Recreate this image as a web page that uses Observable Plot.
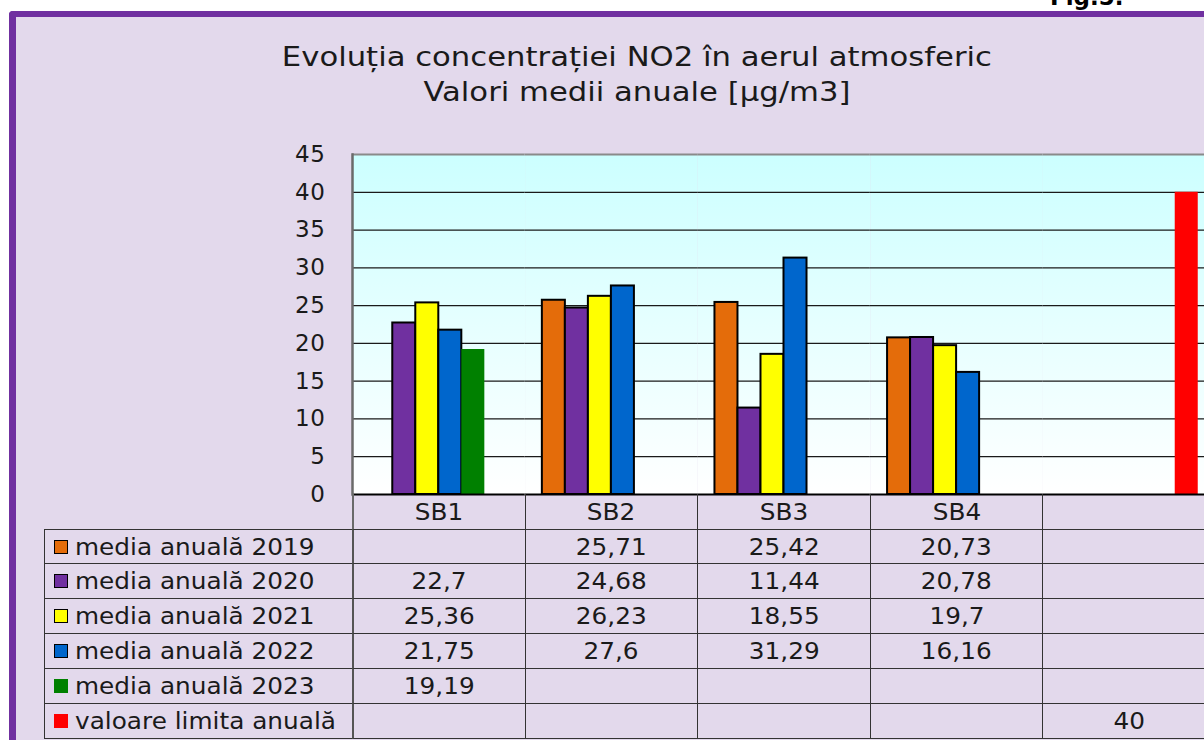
<!DOCTYPE html>
<html>
<head>
<meta charset="utf-8">
<script src="https://cdn.jsdelivr.net/npm/d3@7"></script>
<script src="https://cdn.jsdelivr.net/npm/@observablehq/plot@0.6"></script>
<style>
html, body { margin: 0; padding: 0; width: 1204px; height: 740px; overflow: hidden; background: #ffffff; }
#frame { position: absolute; left: 9px; top: 11px; width: 1300px; height: 800px; background: #E3D9EC;
  border-left: 7px solid #7030A0; border-top: 6px solid #7030A0; border-top-left-radius: 4px; }
#fig { position: absolute; left: 1050px; top: -14px; font: bold 23px "DejaVu Sans"; line-height: 23px; color: #000; }
#title { position: absolute; left: 0; width: 1274px; top: 40px; text-align: center; font: 26px "DejaVu Sans";
  line-height: 35px; color: #1a1a1a; }
#title span { display: inline-block; transform: scaleX(1.18); }
#chart { position: absolute; left: 0; top: 0; }
#table { position: absolute; left: 44px; top: 494px; display: grid;
  grid-template-columns: 308px repeat(5, 172.6px); grid-auto-rows: 35px;
  font: 22.5px "DejaVu Sans"; color: #1a1a1a; }
.c { box-sizing: border-box; display: flex; align-items: center; justify-content: center; white-space: nowrap; }
.c span { display: inline-block; transform: scaleX(1.1); }
.hd { border-left: 1.5px solid #333; }
.hd.first { border-left: 2px solid #6a6a6a; }
.b { border-left: 1.5px solid #333; border-bottom: 1.5px solid #333; }
.b.first { border-left: 2px solid #555; }
.r1 { border-top: 1.5px solid #333; }
.lab { justify-content: flex-start; padding-left: 9px; }
.lab span { transform-origin: left center; }
.sw { width: 14px; height: 14px; box-sizing: border-box; margin-right: 7px; flex: none; }
</style>
</head>
<body>
<div id="frame"></div>
<div id="fig">Fig.5.</div>
<div id="title"><span>Evoluția concentrației NO2 în aerul atmosferic</span><br><span>Valori medii anuale [µg/m3]</span></div>
<div id="chart"></div>
<div id="table"></div>
<script>
// ---- data ----
const categories = ["SB1", "SB2", "SB3", "SB4", " "];
const series = ["media anuală 2019", "media anuală 2020", "media anuală 2021", "media anuală 2022", "media anuală 2023", "valoare limita anuală"];
const colors = ["#E46C0A", "#7030A0", "#FFFF00", "#0066CC", "#008000", "#FF0000"];
const outlined = [true, true, true, true, false, false];
const v2019 = [null, 25.71, 25.42, 20.73, null];
const v2020 = [22.7, 24.68, 11.44, 20.78, null];
const v2021 = [25.36, 26.23, 18.55, 19.7, null];
const v2022 = [21.75, 27.6, 31.29, 16.16, null];
const v2023 = [19.19, null, null, null, null];
const vLimit = [null, null, null, null, 40];
const yTicks = [0, 5, 10, 15, 20, 25, 30, 35, 40, 45];

const seriesValues = [v2019, v2020, v2021, v2022, v2023, vLimit];
const rows = [];
seriesValues.forEach((vals, si) => vals.forEach((v, ci) => {
  if (v != null) rows.push({cat: categories[ci], series: series[si], value: v, outlined: outlined[si]});
}));

const chart = Plot.plot({
  width: 1230,
  height: 500,
  marginLeft: 352,
  marginRight: 15,
  marginTop: 154,
  marginBottom: 6,
  style: {background: "transparent", fontFamily: "DejaVu Sans", fontSize: "22px", color: "#1a1a1a", maxWidth: "none", overflow: "visible"},
  fx: {domain: categories, padding: 0, axis: null, round: false},
  x: {domain: series, paddingInner: 0, paddingOuter: 0.75, axis: null, round: false},
  y: {domain: [0, 45]},
  color: {domain: series, range: colors},
  marks: [
    Plot.frame({fill: "url(#plotBg)", stroke: "none"}),
    Plot.ruleY(yTicks.filter(t => t > 0 && t < 45), {stroke: "#1a1a1a", strokeWidth: 1.2}),
    Plot.ruleY([45], {stroke: "#8a8a8a", strokeWidth: 2}),
    Plot.barY(rows.filter(d => d.outlined), {fx: "cat", x: "series", y: "value", fill: "series", stroke: "#000", strokeWidth: 2}),
    Plot.barY(rows.filter(d => !d.outlined), {fx: "cat", x: "series", y: "value", fill: "series"}),
    Plot.ruleY([0], {stroke: "#000", strokeWidth: 2}),
    Plot.frame({anchor: "left", facetAnchor: "left", stroke: "#6a6a6a", strokeWidth: 2.5}),
    Plot.axisY(yTicks, {tickSize: 0, tickPadding: 27, fontSize: 23, fill: "#1a1a1a", label: null})
  ]
});

const defs = document.createElementNS("http://www.w3.org/2000/svg", "defs");
defs.innerHTML = '<linearGradient id="plotBg" x1="0" y1="0" x2="0" y2="1">' +
  '<stop offset="0" stop-color="#CCFFFF"/><stop offset="1" stop-color="#FFFFFF"/></linearGradient>';
chart.insertBefore(defs, chart.firstChild);
chart.querySelectorAll('[aria-label="y-axis tick label"] text').forEach(t => t.setAttribute("letter-spacing", "0.6"));
document.getElementById("chart").appendChild(chart);

// ---- data table ----
const fmt = v => v == null ? "" : String(v).replace(".", ",");
const table = document.getElementById("table");
function cell(cls, text) {
  const d = document.createElement("div");
  d.className = "c " + cls;
  if (text) { const s = document.createElement("span"); s.textContent = text; d.appendChild(s); }
  table.appendChild(d);
  return d;
}
cell("", "");
categories.forEach((c, i) => cell("hd" + (i === 0 ? " first" : ""), c.trim()));
series.forEach((s, si) => {
  const r1 = si === 0 ? " r1" : "";
  const lab = document.createElement("div");
  lab.className = "c b lab" + r1;
  const sw = document.createElement("div");
  sw.className = "sw";
  sw.style.background = colors[si];
  if (outlined[si]) sw.style.border = "1.5px solid #000";
  lab.appendChild(sw);
  const sp = document.createElement("span");
  sp.textContent = s;
  lab.appendChild(sp);
  table.appendChild(lab);
  seriesValues[si].forEach((v, ci) => cell("b" + (ci === 0 ? " first" : "") + r1, fmt(v)));
});
</script>
</body>
</html>
